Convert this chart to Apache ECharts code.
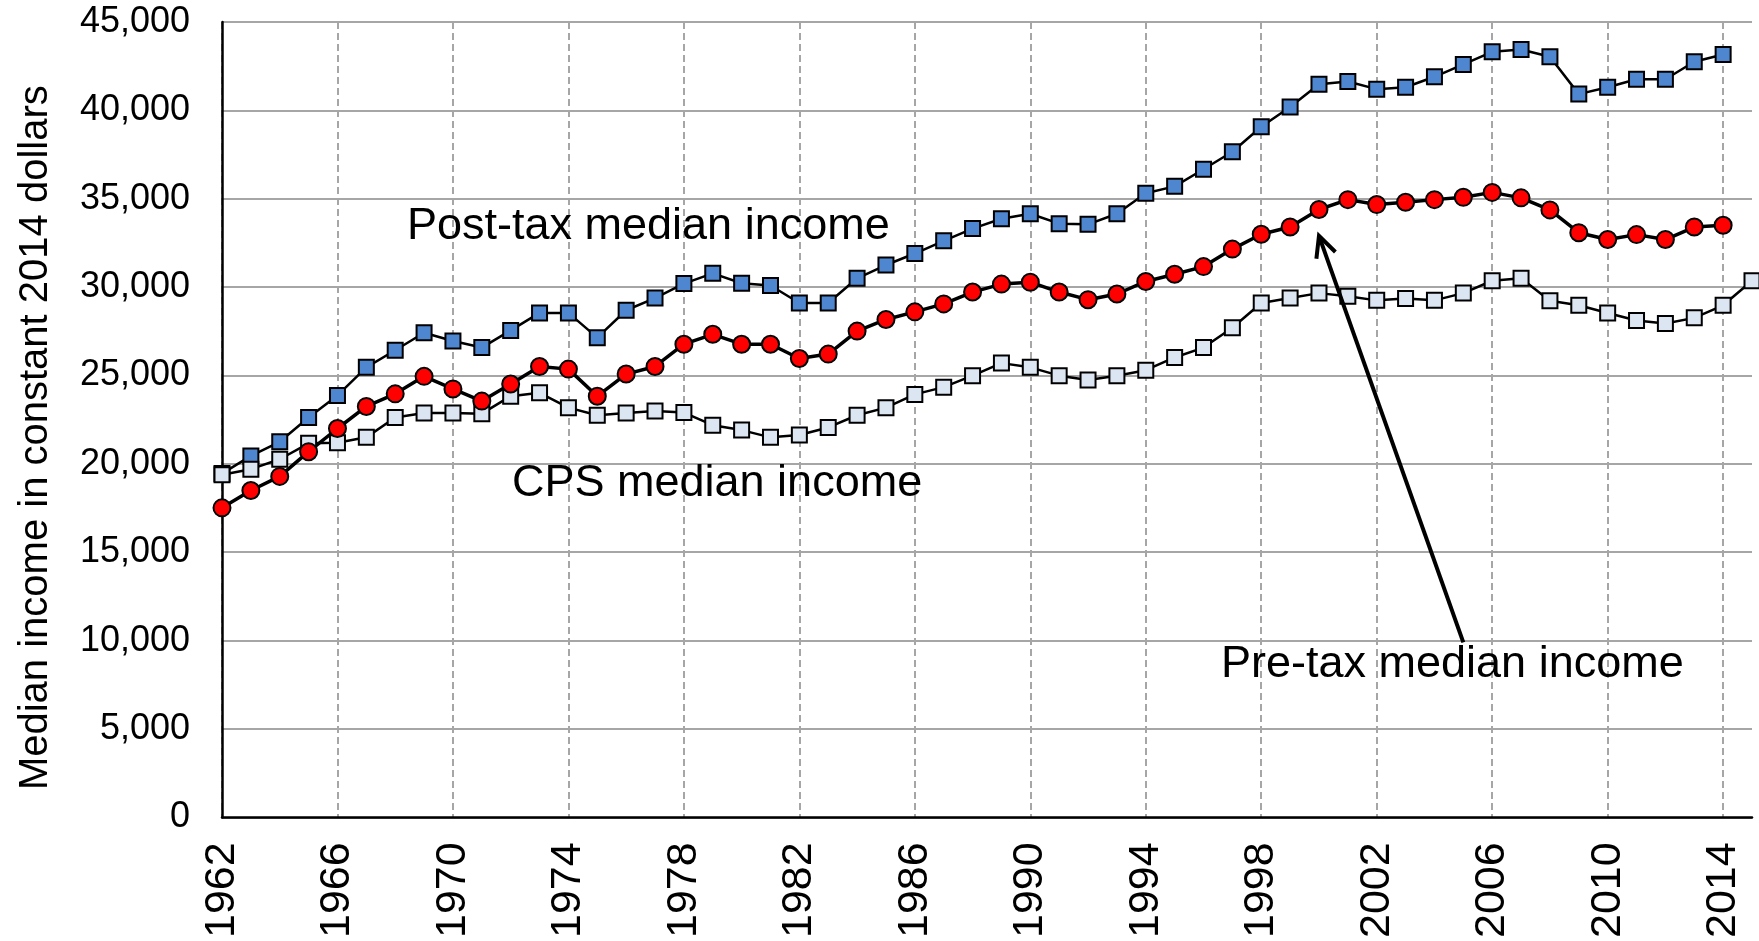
<!DOCTYPE html>
<html>
<head>
<meta charset="utf-8">
<title>Median income</title>
<script src="https://cdn.jsdelivr.net/npm/echarts@6/dist/echarts.min.js"></script>
<style>
  html, body { margin: 0; padding: 0; background: #fff; }
  #chart { width: 1759px; height: 941px; }
</style>
</head>
<body>
<div id="chart"></div>
<script>
const years = [
  '1962', '1963', '1964', '1965', '1966', '1967', '1968', '1969', '1970', '1971',
  '1972', '1973', '1974', '1975', '1976', '1977', '1978', '1979', '1980', '1981',
  '1982', '1983', '1984', '1985', '1986', '1987', '1988', '1989', '1990', '1991',
  '1992', '1993', '1994', '1995', '1996', '1997', '1998', '1999', '2000', '2001',
  '2002', '2003', '2004', '2005', '2006', '2007', '2008', '2009', '2010', '2011',
  '2012', '2013', '2014', '2015'
];

// Post-tax median income
const postTax = [
  19450, 20450, 21250, 22620, 23870, 25460, 26430, 27420, 26950, 26580,
  27550, 28540, 28540, 27140, 28690, 29380, 30200, 30780, 30220, 30090,
  29100, 29100, 30500, 31250, 31900, 32620, 33310, 33870, 34150, 33590,
  33550, 34150, 35310, 35700, 36670, 37660, 39070, 40190, 41480, 41630,
  41200, 41310, 41900, 42600, 43310, 43440, 43030, 40920, 41310, 41760,
  41760, 42750, 43160, '-'
];

// Pre-tax median income
const preTax = [
  17510, 18490, 19290, 20690, 22000, 23250, 23960, 24950, 24240, 23550,
  24520, 25510, 25360, 23830, 25080, 25510, 26770, 27330, 26770, 26770,
  25960, 26210, 27510, 28170, 28600, 29050, 29720, 30170, 30280, 29720,
  29290, 29610, 30320, 30730, 31160, 32150, 32990, 33400, 34390, 34950,
  34670, 34800, 34950, 35080, 35360, 35050, 34370, 33080, 32690, 32970,
  32690, 33400, 33500, '-'
];

// CPS median income
const cps = [
  19380, 19700, 20260, 21160, 21200, 21500, 22620, 22880, 22880, 22840,
  23830, 24020, 23180, 22750, 22880, 22990, 22900, 22190, 21910, 21500,
  21630, 22060, 22750, 23180, 23930, 24340, 24990, 25700, 25460, 24990,
  24750, 24990, 25300, 26020, 26580, 27700, 29100, 29380, 29660, 29480,
  29250, 29350, 29250, 29660, 30360, 30500, 29230, 28970, 28540, 28110,
  27940, 28260, 28970, 30360
];

const FONT = "'Liberation Sans', Arial, sans-serif";

const chart = echarts.init(document.getElementById('chart'));

const option = {
  animation: false,
  backgroundColor: '#fff',
  textStyle: { fontFamily: FONT },
  grid: { left: 222, right: 7, top: 22, bottom: 117 },
  xAxis: {
    type: 'category',
    data: years,
    boundaryGap: false,
    axisLine: { lineStyle: { color: '#000', width: 2.5 } },
    axisTick: { show: false },
    axisLabel: {
      interval: 3,
      rotate: 90,
      margin: 25,
      color: '#000',
      fontSize: 43,
      fontFamily: FONT
    },
    splitLine: {
      show: true,
      interval: 3,
      lineStyle: { color: '#a6a6a6', width: 2, type: [7, 4] }
    }
  },
  yAxis: {
    type: 'value',
    min: 0,
    max: 45000,
    interval: 5000,
    name: 'Median income in constant 2014 dollars',
    nameLocation: 'middle',
    nameGap: 166,
    nameTextStyle: { color: '#000', fontSize: 40, fontFamily: FONT, padding: [0, 36, 0, 0] },
    axisLine: { show: true, lineStyle: { color: '#000', width: 2.5 } },
    axisTick: { show: false },
    axisLabel: {
      margin: 32,
      color: '#000',
      fontSize: 36,
      fontFamily: FONT,
      formatter: (v) => v.toLocaleString('en-US')
    },
    splitLine: { lineStyle: { color: '#a6a6a6', width: 2 } }
  },
  series: [
    {
      name: 'Post-tax median income',
      type: 'line',
      data: postTax,
      symbol: 'rect',
      symbolSize: 15,
      lineStyle: { color: '#000', width: 2.5 },
      itemStyle: { color: '#4f86d0', borderColor: '#000', borderWidth: 2 }
    },
    {
      name: 'CPS median income',
      type: 'line',
      data: cps,
      symbol: 'rect',
      symbolSize: 15,
      lineStyle: { color: '#000', width: 2.5 },
      itemStyle: { color: '#dce6f2', borderColor: '#000', borderWidth: 2 }
    },
    {
      name: 'Pre-tax median income',
      type: 'line',
      data: preTax,
      symbol: 'circle',
      symbolSize: 17,
      lineStyle: { color: '#000', width: 3.5 },
      itemStyle: { color: '#ff0000', borderColor: '#000', borderWidth: 2 }
    }
  ]
};

chart.setOption(option);

// annotations: series labels and the arrow pointing at the pre-tax line
const labelStyle = { fill: '#000', fontSize: 45, fontFamily: FONT };
const tip = chart.convertToPixel({ xAxisIndex: 0, yAxisIndex: 0 }, [38, 32900]);
const tail = chart.convertToPixel({ xAxisIndex: 0, yAxisIndex: 0 }, [43, 9900]);
const dx = tail[0] - tip[0], dy = tail[1] - tip[1];
const len = Math.sqrt(dx * dx + dy * dy);
const ux = dx / len, uy = dy / len;
const arm = 23, ang = 26 * Math.PI / 180;
const rot = (a) => [
  tip[0] + arm * (ux * Math.cos(a) - uy * Math.sin(a)),
  tip[1] + arm * (ux * Math.sin(a) + uy * Math.cos(a))
];

chart.setOption({
  graphic: [
    { type: 'text', left: 407, top: 204, style: Object.assign({ text: 'Post-tax median income' }, labelStyle), z: 100 },
    { type: 'text', left: 512, top: 461, style: Object.assign({ text: 'CPS median income' }, labelStyle), z: 100 },
    { type: 'text', left: 1221, top: 642, style: Object.assign({ text: 'Pre-tax median income' }, labelStyle), z: 100 },
    {
      type: 'polyline',
      shape: { points: [tail, tip] },
      style: { stroke: '#000', lineWidth: 4, fill: null },
      z: 100
    },
    {
      type: 'polyline',
      shape: { points: [rot(ang), tip, rot(-ang)] },
      style: { stroke: '#000', lineWidth: 4, fill: null },
      z: 100
    }
  ]
});

window.addEventListener('resize', () => {
  chart.resize();
});
</script>
</body>
</html>
